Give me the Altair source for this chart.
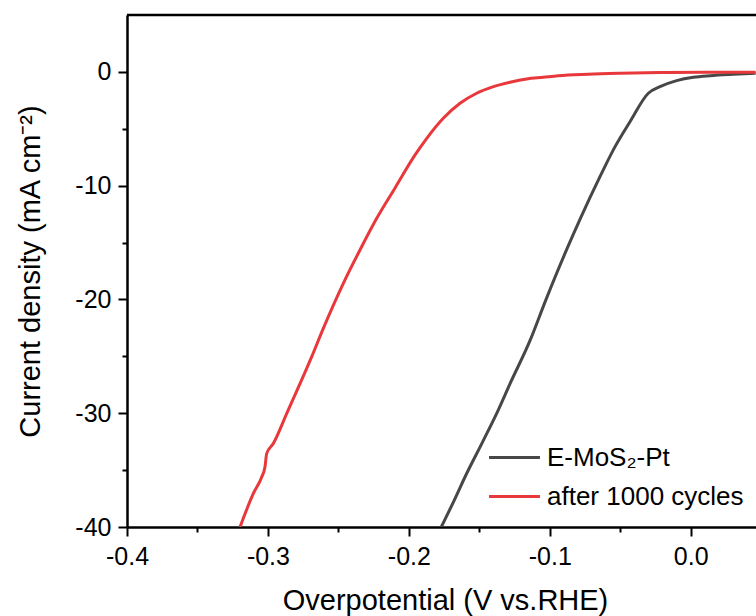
import altair as alt
import pandas as pd

series_names = ["E-MoS₂-Pt", "after 1000 cycles"]
series_colors = ["#474747", "#e8383b"]

# E-MoS2-Pt (overpotential V, current density mA cm-2)
emos_x = [-0.177, -0.168, -0.159, -0.148, -0.1365, -0.1282, -0.114, -0.103, -0.088,
          -0.0786, -0.0644, -0.0537, -0.0431, -0.0301, -0.0218, -0.010, 0.0019,
          0.0137, 0.0302, 0.046]
emos_y = [-40.0, -37.7, -35.3, -32.6, -29.7, -27.4, -23.6, -20.1, -15.6,
          -12.96, -9.21, -6.57, -4.38, -1.88, -1.30, -0.77, -0.47,
          -0.33, -0.21, -0.12]

# after 1000 cycles
cyc_x = [-0.3198, -0.3104, -0.3044, -0.3021, -0.3009, -0.2962, -0.2867, -0.269,
         -0.2607, -0.2465, -0.2347, -0.2228, -0.2098, -0.1956, -0.1873, -0.1756,
         -0.1637, -0.1519, -0.140, -0.1282, -0.1164, -0.1046, -0.094, -0.0728,
         -0.05, -0.0218, 0.01, 0.046]
cyc_y = [-40.0, -37.07, -35.6, -34.72, -33.55, -32.67, -30.03, -25.05,
         -22.54, -18.58, -15.65, -12.87, -10.2, -7.3, -5.84, -4.08,
         -2.76, -1.88, -1.30, -0.91, -0.62, -0.47, -0.33, -0.2,
         -0.12, -0.06, -0.03, -0.04]

x_ticks = [-0.4, -0.35, -0.3, -0.25, -0.2, -0.15, -0.1, -0.05, 0.0]
y_ticks = [-40, -35, -30, -25, -20, -15, -10, -5, 0]
x_domain = [-0.4, 0.0463]
y_domain = [-40, 5]

rows = []
for i, (xv, yv) in enumerate(zip(emos_x, emos_y)):
    rows.append({"series": series_names[0], "x": xv, "y": yv, "i": i})
for i, (xv, yv) in enumerate(zip(cyc_x, cyc_y)):
    rows.append({"series": series_names[1], "x": xv, "y": yv, "i": i})
df = pd.DataFrame(rows)

FONT = "Liberation Sans"
x_minor = "abs(datum.value*10 - round(datum.value*10)) > 0.001"
y_minor = "abs(datum.value/10 - round(datum.value/10)) > 0.001"

x_axis = alt.Axis(
    values=x_ticks,
    title="Overpotential (V vs.RHE)",
    labelExpr="abs(datum.value*10 - round(datum.value*10)) > 0.001 ? '' : ((datum.value < -0.0001 ? '-' : '') + format(abs(datum.value), '.1f'))",
    tickSize={"condition": {"test": x_minor, "value": 5}, "value": 9},
    tickWidth=2, tickColor="black", domainColor="black", domainWidth=2.5,
    labelFont=FONT, labelFontSize=25, labelColor="black", labelPadding=8,
    titleFont=FONT, titleFontSize=29, titleFontWeight="normal", titleColor="black",
    titlePadding=17, titleX=318, grid=False, labelFlush=False,
)
y_axis = alt.Axis(
    values=y_ticks,
    title="Current density (mA cm⁻²)",
    labelExpr="abs(datum.value/10 - round(datum.value/10)) > 0.001 ? '' : ((datum.value < 0 ? '-' : '') + format(abs(datum.value), 'd'))",
    tickSize={"condition": {"test": y_minor, "value": 5}, "value": 9},
    tickWidth=2, tickColor="black", domainColor="black", domainWidth=2.5,
    labelFont=FONT, labelFontSize=25, labelColor="black", labelPadding=7,
    titleFont=FONT, titleFontSize=29, titleFontWeight="normal", titleColor="black",
    titlePadding=29, grid=False, labelFlush=False,
)

lines = alt.Chart(df).mark_line(strokeWidth=3, clip=True, interpolate="monotone").encode(
    x=alt.X("x:Q", scale=alt.Scale(domain=x_domain, nice=False, zero=False), axis=x_axis),
    y=alt.Y("y:Q", scale=alt.Scale(domain=y_domain, nice=False, zero=False), axis=y_axis),
    color=alt.Color(
        "series:N",
        scale=alt.Scale(domain=series_names, range=series_colors),
        legend=alt.Legend(
            orient="none", legendX=367, legendY=422, title=None,
            symbolType="M-1.34,0H1.34", symbolSize=1444, symbolStrokeWidth=3,
            labelFont=FONT, labelFontSize=26, labelColor="black", labelLimit=400,
            labelOffset=12, rowPadding=5, padding=0,
        ),
    ),
    order=alt.Order("i:Q"),
)

top_line = alt.Chart(pd.DataFrame({"y": [y_domain[1]]})).mark_rule(
    color="black", strokeWidth=2.5
).encode(y=alt.Y("y:Q"))

chart = alt.layer(lines, top_line).properties(
    width=629, height=512,
    autosize=alt.AutoSizeParams(type="none"),
    padding={"left": 127, "top": 15, "right": 0, "bottom": 89},
    background="white",
).configure_view(stroke=None)

chart.save("out.html", embed_options={"renderer": "svg", "actions": False})
